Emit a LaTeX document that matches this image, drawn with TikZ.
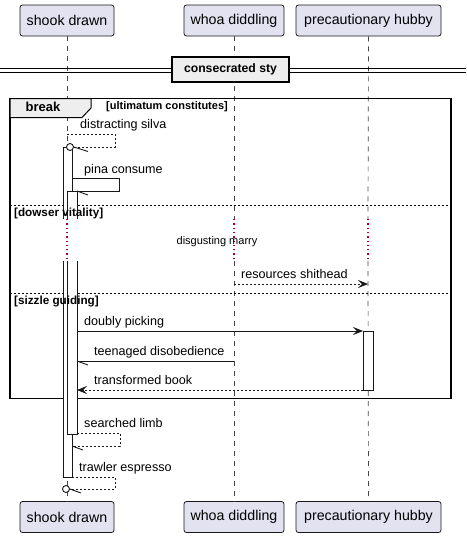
\documentclass[tikz,border=0pt]{standalone}
\usepackage{fontspec}
\setmainfont{Liberation Sans}
\usetikzlibrary{arrows.meta}
\definecolor{partfill}{HTML}{E2E2F0}
\definecolor{partline}{HTML}{181818}
\definecolor{tabfill}{HTML}{EEEEEE}
\definecolor{delayred}{HTML}{A80036}
\tikzset{
  part/.style={draw=partline, fill=partfill, rounded corners=2.5pt, line width=0.8pt,
    minimum height=31pt, inner sep=0pt, font=\fontsize{14.2}{16}\selectfont},
  life/.style={draw=partline!80, line width=0.7pt, dash pattern=on 5pt off 5pt},
  delayline/.style={draw=delayred, line width=1.3pt, dash pattern=on 1.3pt off 3pt},
  msg/.style={draw=partline, line width=0.9pt},
  rmsg/.style={draw=partline, line width=0.9pt, dash pattern=on 2pt off 2pt},
  fullhead/.style={-{Stealth[length=10pt,width=8pt,inset=4pt]}},
  mlabel/.style={anchor=base west, inner sep=0pt, font=\fontsize{12.6}{14}\selectfont},
  glabel/.style={anchor=base west, inner sep=0pt, font=\bfseries\fontsize{11.7}{13}\selectfont},
  actbar/.style={draw=partline, line width=0.9pt},
  frameline/.style={draw=black, line width=1.5pt},
  sepline/.style={draw=black, line width=0.7pt, dash pattern=on 2pt off 2pt},
}
\begin{document}
\begin{tikzpicture}[x=1pt,y=-1pt]
\useasboundingbox (0,0) rectangle (466,538);
% participants
\node[part, minimum width=94pt] (sdT) at (67,20.5) {shook drawn};
\node[part, minimum width=100pt] (wdT) at (234,20.5) {whoa diddling};
\node[part, minimum width=145pt] (phT) at (368.5,20.5) {precautionary hubby};
\node[part, minimum width=94pt] (sdB) at (67,517) {shook drawn};
\node[part, minimum width=100pt] (wdB) at (234,517) {whoa diddling};
\node[part, minimum width=145pt] (phB) at (368.5,517) {precautionary hubby};
% lifelines with delay
\foreach \n/\x in {sd/67,wd/234,ph/368} {
  \coordinate (\n d1) at (\x,219);
  \coordinate (\n d2) at (\x,261);
  \draw[life] (\n T.south) -- (\n d1);
  \draw[delayline] (\n d1) -- (\n d2);
  \draw[life] (\n d2) -- (\n B.north);
}
% separator
\draw[line width=0.9pt] (0,68) -- (466,68);
\draw[line width=0.9pt] (0,72) -- (466,72);
\node[draw=black, fill=tabfill, line width=1.8pt, minimum width=117pt, minimum height=25pt,
  inner sep=0pt, font=\bfseries\fontsize{12.2}{14}\selectfont] (sep) at (230.5,69.5) {consecrated sty};
% frame
\draw[frameline] (10,98.5) rectangle (451,398.5);
\draw[draw=black, fill=tabfill, line width=1pt] (10,98.5) -- (91,98.5) -- (91,108) -- (82,117.5) -- (10,117.5) -- cycle;
\node[anchor=base, inner sep=0pt, font=\bfseries\fontsize{13}{15}\selectfont] (brk) at (43,111) {break};
\node[glabel, font=\bfseries\fontsize{11}{13}\selectfont] (guard) at (106,109) {[ultimatum constitutes]};
\draw[sepline] (10,205) -- (451,205);
\draw[sepline] (10,293) -- (451,293);
% message 1: distracting silva
\node[mlabel] (m1) at (80,128) {distracting silva};
\coordinate (m1a) at (67,134);
\coordinate (m1b) at (74,147);
\draw[rmsg] (m1a) -- (115,134) -- (115,147) -- (m1b);
% activation bar 1
\fill[white] (63,147) rectangle (72,219);
\fill[white] (63,261) rectangle (72,477);
\draw[actbar] (63,219) -- (63,147) -- (72,147) -- (72,219);
\draw[actbar] (63,261) -- (63,477) -- (72,477) -- (72,261);
\node[circle, draw=partline, fill=white, line width=0.9pt, minimum size=7pt, inner sep=0pt] (c1) at (70,147) {};
\draw[msg] (c1.east) -- ++(14,4.5);
% message 2: pina consume
\node[mlabel] (m2) at (84,173) {pina consume};
\coordinate (m2a) at (72,178);
\coordinate (m2b) at (77,191);
\draw[msg] (m2a) -- (119,178) -- (119,191) -- (m2b);
\draw[msg] (m2b) -- ++(11,4);
% activation bar 2
\fill[white] (67,191) rectangle (77,219);
\fill[white] (67,261) rectangle (77,434);
\draw[actbar] (67,219) -- (67,191) -- (77,191) -- (77,219);
\draw[actbar] (67,261) -- (67,434) -- (77,434) -- (77,261);
% group labels over bars
\node[glabel] (g2) at (14,216) {[dowser vitality]};
\node[glabel] (g3) at (14,304) {[sizzle guiding]};
% delay text
\node[anchor=base, inner sep=0pt, font=\fontsize{11}{13}\selectfont] (dl) at (217,244) {disgusting marry};
% message 3: resources shithead
\node[mlabel] (m3) at (241,278) {resources shithead};
\coordinate (m3a) at (234,284);
\coordinate (m3b) at (368,284);
\draw[rmsg, fullhead] (m3a) -- (m3b);
% activation bar 3
\draw[actbar, fill=white] (363,331) rectangle (373,390);
% message 4: doubly picking
\node[mlabel] (m4) at (84,325) {doubly picking};
\coordinate (m4a) at (77,331);
\coordinate (m4b) at (363,331);
\draw[msg, fullhead] (m4a) -- (m4b);
% message 5: teenaged disobedience
\node[mlabel] (m5) at (94,355) {teenaged disobedience};
\coordinate (m5a) at (234,361);
\coordinate (m5b) at (77,361);
\draw[msg] (m5a) -- (m5b);
\draw[msg] (m5b) -- ++(11,4);
% message 6: transformed book
\node[mlabel] (m6) at (94,384) {transformed book};
\coordinate (m6a) at (363,390);
\coordinate (m6b) at (77,390);
\draw[rmsg, fullhead] (m6a) -- (m6b);
% message 7: searched limb
\node[mlabel] (m7) at (84,427) {searched limb};
\coordinate (m7a) at (77,433);
\coordinate (m7b) at (72,446);
\draw[rmsg] (m7a) -- (120,433) -- (120,446) -- (m7b);
\draw[msg] (m7b) -- ++(11,4);
% message 8: trawler espresso
\node[mlabel] (m8) at (79,471) {trawler espresso};
\coordinate (m8a) at (72,477);
\coordinate (m8b) at (70,489);
\draw[rmsg] (m8a) -- (115,477) -- (115,489) -- (m8b);
\node[circle, draw=partline, fill=white, line width=0.9pt, minimum size=7pt, inner sep=0pt] (c8) at (66,489) {};
\draw[msg] (c8.east) -- ++(11,4);
\end{tikzpicture}
\end{document}
